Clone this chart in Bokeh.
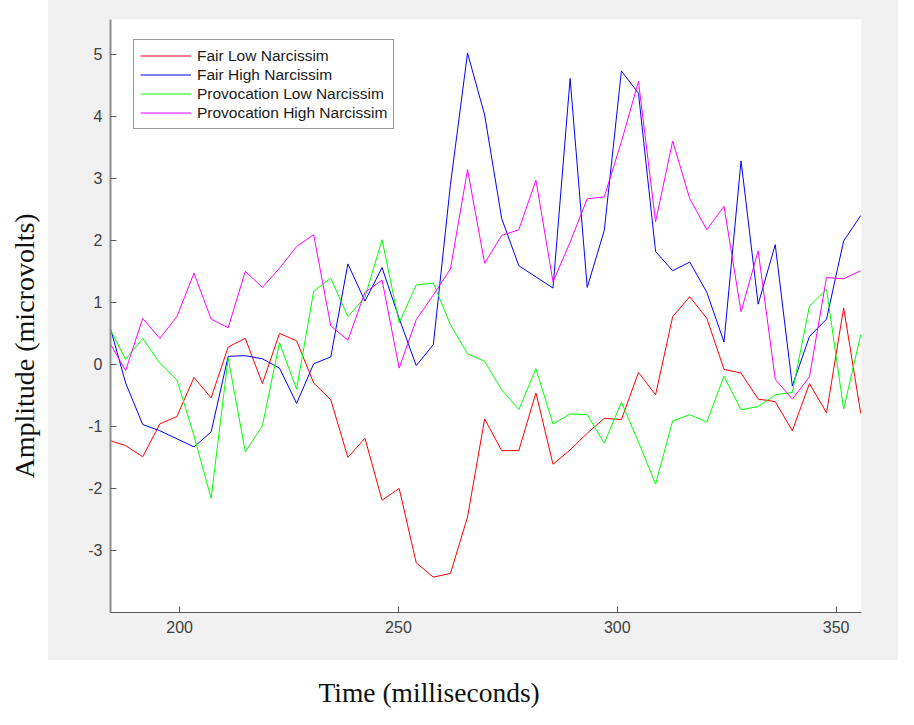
from bokeh.plotting import figure
from bokeh.models import Range1d, Title, Legend, LegendItem, FixedTicker
from bokeh.embed import file_html
from bokeh.resources import INLINE

time_ms = [183.75, 187.66, 191.56, 195.47, 199.38, 203.28, 207.19, 211.09, 215.00,
           218.91, 222.81, 226.72, 230.63, 234.53, 238.44, 242.34, 246.25, 250.16,
           254.06, 257.97, 261.88, 265.78, 269.69, 273.59, 277.50, 281.41, 285.31,
           289.22, 293.13, 297.03, 300.94, 304.84, 308.75, 312.66, 316.56, 320.47,
           324.38, 328.28, 332.19, 336.09, 340.00, 343.91, 347.81, 351.72, 355.63]

fair_low = [-1.22, -1.31, -1.49, -0.96, -0.84, -0.21, -0.54, 0.28, 0.42, -0.31,
            0.50, 0.38, -0.30, -0.57, -1.50, -1.19, -2.19, -2.00, -3.20, -3.43,
            -3.37, -2.46, -0.88, -1.39, -1.39, -0.46, -1.61, -1.38, -1.11, -0.87,
            -0.89, -0.13, -0.49, 0.77, 1.09, 0.74, -0.08, -0.14, -0.56, -0.60,
            -1.07, -0.31, -0.78, 0.91, -0.79]

fair_high = [0.69, -0.30, -0.97, -1.07, -1.20, -1.33, -1.09, 0.13, 0.14, 0.09,
             -0.06, -0.63, 0.01, 0.12, 1.62, 1.02, 1.56, 0.74, -0.02, 0.32,
             2.90, 5.02, 4.02, 2.35, 1.59, 1.41, 1.23, 4.61, 1.24, 2.16,
             4.73, 4.37, 1.82, 1.51, 1.65, 1.16, 0.36, 3.28, 0.97, 1.93,
             -0.35, 0.45, 0.73, 1.99, 2.40]

prov_low = [0.62, 0.08, 0.42, 0.02, -0.25, -1.15, -2.16, 0.10, -1.41, -0.99,
            0.35, -0.40, 1.18, 1.39, 0.77, 1.08, 2.01, 0.67, 1.28, 1.31,
            0.64, 0.17, 0.05, -0.41, -0.73, -0.07, -0.96, -0.80, -0.81, -1.27,
            -0.61, -1.25, -1.93, -0.91, -0.81, -0.93, -0.19, -0.73, -0.68, -0.49,
            -0.45, 0.94, 1.21, -0.72, 0.48]

prov_high = [0.38, -0.10, 0.74, 0.42, 0.77, 1.47, 0.73, 0.59, 1.50, 1.24,
             1.55, 1.90, 2.09, 0.62, 0.39, 1.16, 1.36, -0.06, 0.72, 1.12,
             1.54, 3.14, 1.63, 2.08, 2.17, 2.97, 1.33, 1.97, 2.67, 2.70,
             3.59, 4.56, 2.30, 3.60, 2.67, 2.17, 2.55, 0.85, 1.83, -0.24,
             -0.56, -0.20, 1.40, 1.38, 1.51]

series_names = ["Fair Low Narcissim", "Fair High Narcissim",
                "Provocation Low Narcissim", "Provocation High Narcissim"]
series_colors = ["#ff0000", "#0000ff", "#00ff00", "#ff00ff"]
x_ticks = [200, 250, 300, 350]
y_ticks = [-3, -2, -1, 0, 1, 2, 3, 4, 5]
x_title = "Time (milliseconds)"
y_title = "Amplitude (microvolts)"

grey_panel = ("linear-gradient(#f0f0f0, #f0f0f0) 48px 0px / 850px 660px no-repeat, "
              "#ffffff")

p = figure(frame_width=751, frame_height=593,
           min_border_left=110, min_border_right=37,
           min_border_top=19, min_border_bottom=97,
           x_range=Range1d(184.2, 355.8), y_range=Range1d(-4.0, 5.56),
           output_backend="svg", toolbar_location=None,
           border_fill_color=None, background_fill_color="white",
           outline_line_color=None, styles={"background": grey_panel})
p.grid.visible = False

all_series = [fair_low, fair_high, prov_low, prov_high]
items = []
for name, col, ys in zip(series_names, series_colors, all_series):
    r = p.line(time_ms, ys, line_color=col, line_width=1)
    items.append(LegendItem(label=name, renderers=[r]))

legend = Legend(items=items, location=(23, 483), margin=0, padding=6, spacing=0,
                label_height=19, glyph_height=19, glyph_width=51, label_standoff=6,
                label_text_font="Liberation Sans", label_text_font_size="15.5px",
                label_text_color="#1a1a1a", border_line_color="#333333",
                border_line_width=1, background_fill_color="white",
                background_fill_alpha=1.0)
p.add_layout(legend)

for ax in (p.xaxis, p.yaxis):
    ax.major_tick_in = 6
    ax.major_tick_out = 0
    ax.minor_tick_line_color = None
    ax.major_label_text_font = "Liberation Sans"
    ax.major_label_text_font_size = "16px"
    ax.major_label_text_color = "#404040"
    ax.major_label_standoff = 8
p.xaxis.ticker = FixedTicker(ticks=x_ticks)
p.yaxis.ticker = FixedTicker(ticks=y_ticks)
p.yaxis.major_label_overrides = {t: str(t) for t in y_ticks}
p.xaxis.axis_line_color = "#5a5a5a"
p.xaxis.major_tick_line_color = "#5a5a5a"
p.yaxis.axis_line_color = "#8c8c8c"
p.yaxis.axis_line_width = 2
p.yaxis.major_tick_line_color = "#5a5a5a"

# the empty line in each title only pushes the visible line away from the axis
p.add_layout(Title(text="\n" + x_title, align="left", offset=208, standoff=6,
                   vertical_align="bottom", text_line_height=1.2,
                   text_font="Liberation Serif", text_font_size="27.5px",
                   text_font_style="normal", text_color="#111111"), "below")
p.add_layout(Title(text=y_title + "\n", align="left", offset=134, standoff=4,
                   vertical_align="bottom", text_line_height=1.39,
                   text_font="Liberation Serif", text_font_size="28px",
                   text_font_style="normal", text_color="#111111"), "left")

open("out.html", "w").write(file_html(p, INLINE))
